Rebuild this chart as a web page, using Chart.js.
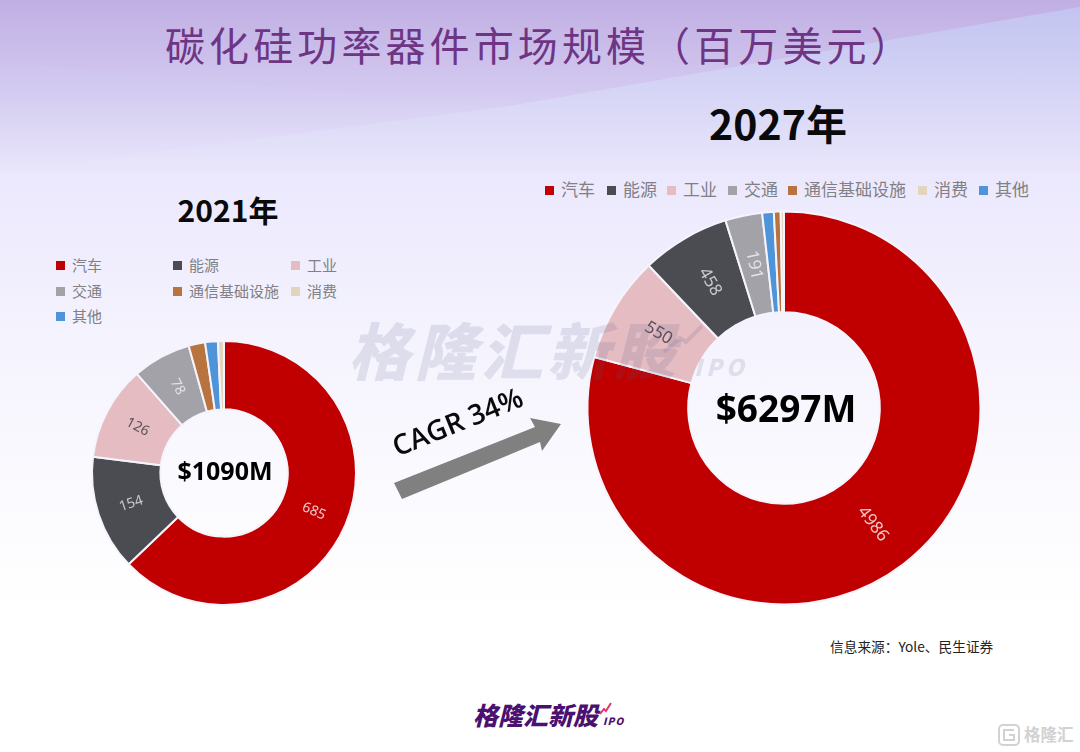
<!DOCTYPE html>
<html lang="zh">
<head>
<meta charset="UTF-8" />
<title>碳化硅功率器件市场规模</title>
<script src="https://cdn.jsdelivr.net/npm/chart.js"></script>
<style>
  html, body { margin: 0; padding: 0; }
  body { width: 1080px; height: 752px; overflow: hidden; position: relative; background: #fff;
         font-family: "Noto Sans CJK SC", "Noto Sans", sans-serif; }
  #bg, #marks { position: absolute; left: 0; top: 0; }
  .abs { position: absolute; white-space: nowrap; }
  canvas { position: absolute; }
  #title { left: 165px; top: 14px; font-size: 40px; line-height: 60px; letter-spacing: 4.1px; color: #6f3585; }
  .year { font-weight: 700; color: #0a0a0a; transform: translateX(-50%); }
  .center { font-family: "Open Sans", sans-serif; font-weight: 700; color: #000; transform: translate(-50%, -50%); }
  .legend { color: #808085; }
  .legend .item { position: absolute; white-space: nowrap; line-height: 20px; }
  .legend i { display: inline-block; width: 9px; height: 9px; margin-right: 7px; vertical-align: 1px; }
  #cagr { left: 386px; top: 429px; font-family: "Open Sans", sans-serif; font-weight: 600; font-size: 28px; color: #0a0a0a; transform: rotate(-22deg); transform-origin: left top; }
  #source { left: 830px; top: 636px; font-size: 13.7px; color: #222; }
  #logo { left: 473px; top: 696px; font-size: 25px; font-weight: 900; font-style: italic; color: #4b1170; }
  #logo small { font-size: 10px; margin-left: 5px; letter-spacing: 1px; }
  .mark { font-weight: 900; font-style: italic; color: #4d5480; opacity: .14; }
  #mark { left: 348px; top: 303px; font-size: 62px; letter-spacing: 4.4px; }
  #markIpo { left: 694px; top: 349px; font-size: 23px; letter-spacing: 4px; }
  #corner { left: 1024px; top: 722px; font-size: 16.5px; font-weight: 700; color: #d2d2d2; }
</style>
</head>
<body>
<svg id="bg" width="1080" height="752">
  <defs>
    <linearGradient id="fade" gradientUnits="userSpaceOnUse" x1="0" y1="170" x2="0" y2="610">
      <stop offset="0" stop-color="#ebe8fd"/>
      <stop offset="0.45" stop-color="#f6f5fe"/>
      <stop offset="1" stop-color="#ffffff"/>
    </linearGradient>
    <linearGradient id="band" gradientUnits="userSpaceOnUse" x1="0" y1="0" x2="0" y2="172">
      <stop offset="0" stop-color="#c0afe3"/>
      <stop offset="0.5" stop-color="#d2c8ef"/>
      <stop offset="1" stop-color="#e9e6fb"/>
    </linearGradient>
    <linearGradient id="band2" gradientUnits="userSpaceOnUse" x1="0" y1="10" x2="0" y2="172">
      <stop offset="0" stop-color="#c3c8f3"/>
      <stop offset="1" stop-color="#e9e6fb"/>
    </linearGradient>
  </defs>
  <rect x="0" y="172" width="1080" height="440" fill="url(#fade)"/>
  <rect x="0" y="0" width="1080" height="172" fill="url(#band)"/>
  <polygon points="0,62 503,107 1080,7 1080,172 0,172" fill="url(#band2)" opacity=".12"/>
  <polygon points="503,107 1080,7 1080,172 0,172" fill="url(#band2)" opacity=".8"/>
  <polygon points="394,483 535,427 530,418 561,424 542,451 540,442 402,499" fill="#808080"/>
</svg>

<div id="title" class="abs">碳化硅功率器件市场规模（百万美元）</div>
<div class="abs year" style="left:228px;top:187px;font-size:30px;">2021年</div>
<div class="abs year" style="left:778px;top:92px;font-size:41px;">2027年</div>

<canvas id="chart2021"></canvas>
<canvas id="chart2027"></canvas>

<div id="mark" class="abs mark">格隆汇新股</div>
<div id="markIpo" class="abs mark">IPO</div>

<div id="legend2021" class="abs legend"></div>
<div id="legend2027" class="abs legend"></div>

<div class="abs center" style="left:225px;top:470px;font-size:25px;">$1090M</div>
<div class="abs center" style="left:786px;top:407px;font-size:37px;">$6297M</div>
<div id="cagr" class="abs">CAGR 34%</div>
<div id="source" class="abs">信息来源：Yole、民生证券</div>
<div id="logo" class="abs">格隆汇新股<small>IPO</small></div>
<div id="corner" class="abs">格隆汇</div>

<svg id="marks" width="1080" height="752">
  <polyline points="600,714 604,709 606,711 611,703" fill="none" stroke="#e8316f" stroke-width="2"/>
  <polyline points="664,352 680,338 686,342 702,326" fill="none" stroke="#4d5480" stroke-width="4" opacity=".14"/>
  <rect x="999" y="725" width="20" height="20" rx="4" fill="none" stroke="#d2d2d2" stroke-width="2"/>
  <polyline points="1014,730 1004,730 1004,740 1014,740 1014,735 1009,735" fill="none" stroke="#d2d2d2" stroke-width="2"/>
</svg>

<script>
  const legendNames = ['汽车', '能源', '工业', '交通', '通信基础设施', '消费', '其他'];
  const legendColors = ['#c00000', '#4b4c52', '#e5bcc2', '#a2a2a8', '#b8733f', '#e3d5bd', '#4f94d8'];

  // slice order differs between the two rings, clockwise from 12 o'clock
  const order2021 = [0, 1, 2, 3, 4, 6, 5];
  const values2021 = [685, 154, 126, 78, 22, 17, 8];
  const labels2021 = ['685', '154', '126', '78', '', '', ''];

  const order2027 = [0, 2, 1, 3, 6, 4, 5];
  const values2027 = [4986, 550, 458, 191, 60, 35, 17];
  const labels2027 = ['4986', '550', '458', '191', '', '', ''];

  // text colour of the value inside each slice, by category
  const valueColors = ['#efc9c9', '#c9c9cf', '#5a5058', '#e2e2e6', '#fff', '#fff', '#fff'];

  const sliceLabels = {
    id: 'sliceLabels',
    afterDatasetsDraw(chart, args, opts) {
      const ctx = chart.ctx;
      const arcs = chart.getDatasetMeta(0).data;
      arcs.forEach((arc, i) => {
        const text = opts.texts[i];
        if (!text) return;
        const mid = (arc.startAngle + arc.endAngle) / 2;
        const r = (arc.innerRadius + arc.outerRadius) / 2;
        let rot = mid;
        if (Math.cos(rot) < 0) rot += Math.PI;
        ctx.save();
        ctx.translate(arc.x + Math.cos(mid) * r, arc.y + Math.sin(mid) * r);
        ctx.rotate(rot);
        ctx.font = opts.size + 'px "Noto Sans", sans-serif';
        ctx.fillStyle = valueColors[opts.order[i]];
        ctx.textAlign = 'center';
        ctx.textBaseline = 'middle';
        ctx.fillText(text, 0, 0);
        ctx.restore();
      });
    }
  };

  function drawRing(id, left, top, size, radius, hole, values, order, texts, fontSize) {
    const canvas = document.getElementById(id);
    canvas.style.left = left + 'px';
    canvas.style.top = top + 'px';
    canvas.width = size;
    canvas.height = size;
    new Chart(canvas, {
      type: 'doughnut',
      data: {
        labels: order.map(k => legendNames[k]),
        datasets: [{
          data: values,
          backgroundColor: order.map(k => legendColors[k]),
          borderColor: '#f5f4fd',
          borderWidth: 2
        }]
      },
      options: {
        responsive: false,
        animation: false,
        radius: radius,
        cutout: hole,
        layout: { padding: 0 },
        plugins: {
          legend: { display: false },
          tooltip: { enabled: false },
          sliceLabels: { texts, order, size: fontSize }
        }
      },
      plugins: [sliceLabels]
    });
  }

  function drawLegend(id, left, top, fontSize, spots) {
    const box = document.getElementById(id);
    box.style.left = left + 'px';
    box.style.top = top + 'px';
    box.style.fontSize = fontSize + 'px';
    legendNames.forEach((name, i) => {
      const item = document.createElement('div');
      item.className = 'item';
      item.style.left = spots[i][0] + 'px';
      item.style.top = spots[i][1] + 'px';
      item.innerHTML = `<i style="background:${legendColors[i]}"></i>${name}`;
      box.appendChild(item);
    });
  }

  drawRing('chart2021', 84, 333, 280, 132, 67, values2021, order2021, labels2021, 14);
  drawRing('chart2027', 580, 204, 408, 196.5, 99, values2027, order2027, labels2027, 17);

  drawLegend('legend2021', 56, 255, 15, [[0, 0], [117, 0], [235, 0], [0, 26], [117, 26], [235, 26], [0, 51]]);
  drawLegend('legend2027', 545, 179, 17, [[0, 0], [62, 0], [122, 0], [183, 0], [243, 0], [373, 0], [434, 0]]);
</script>
</body>
</html>
